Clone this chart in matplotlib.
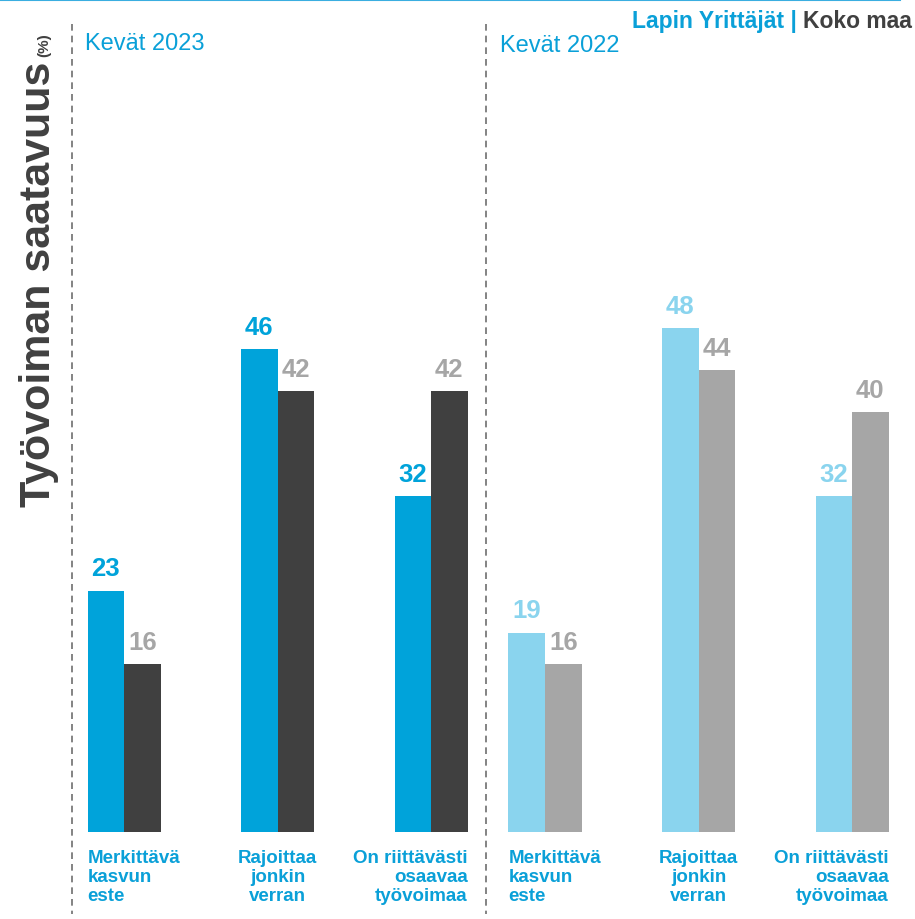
import matplotlib
matplotlib.use("Agg")
import matplotlib.pyplot as plt
from matplotlib.lines import Line2D

categories = ["Merkittävä\nkasvun\neste", "Rajoittaa\njonkin\nverran", "On riittävästi\nosaavaa\ntyövoimaa"]
lapin_2023 = [23, 46, 32]
koko_2023 = [16, 42, 42]
lapin_2022 = [19, 48, 32]
koko_2022 = [16, 44, 40]
period_labels = ["Kevät 2023", "Kevät 2022"]
legend_a = "Lapin Yrittäjät | "
legend_b = "Koko maa"
title = "Työvoiman saatavuus"
unit = "(%)"

C_BLUE = "#00A3DA"
C_DARK = "#404040"
C_LBLUE = "#8AD4EE"
C_GRAY = "#A6A6A6"
C_CAT = "#0AA0D8"

W, H = 915, 920
fig = plt.figure(figsize=(W / 100, H / 100), dpi=100)

NARROW = ["Liberation Sans Narrow", "Liberation Sans", "DejaVu Sans"]
ARIAL = ["Liberation Sans", "DejaVu Sans"]

bw = 0.238
ymax = 75
base_px = 833
px_per_unit = 10.5

def make_axes(left_px, right_px, xl):
    ax = fig.add_axes([left_px / W, 1 - base_px / H, (right_px - left_px) / W, ymax * px_per_unit / H])
    ax.set_xlim(*xl)
    ax.set_ylim(0, ymax)
    ax.axis("off")
    return ax

axL = make_axes(72, 486, (-0.339, 2.358))
axR = make_axes(486, 915, (-0.384, 2.41))

def draw(ax, lap, kok, c_lap, c_kok, c_lap_lbl, c_kok_lbl):
    x = list(range(len(categories)))
    b1 = ax.bar([i - bw / 2 for i in x], lap, width=bw, color=c_lap, linewidth=0)
    b2 = ax.bar([i + bw / 2 for i in x], kok, width=bw, color=c_kok, linewidth=0)
    for bars, vals, col in ((b1, lap, c_lap_lbl), (b2, kok, c_kok_lbl)):
        for r, v in zip(bars, vals):
            ax.annotate(f"{v}", xy=(r.get_x() + r.get_width() / 2, v), xytext=(0, 7.5),
                        textcoords="offset points", ha="center", va="bottom",
                        fontsize=18.5, fontweight="bold", color=col, family=ARIAL,
                        annotation_clip=False)
    aligns = ["left", "center", "right"]
    xs = [0 - bw, 1, 2 + bw]
    for xi, ha, lab in zip(xs, aligns, categories):
        ax.annotate(lab, xy=(xi, 0), xytext=(0, -12), textcoords="offset points",
                    ha=ha, va="top", multialignment=ha, fontsize=13.5, fontweight="bold",
                    color=C_CAT, family=NARROW, linespacing=1.18, annotation_clip=False)

draw(axL, lapin_2023, koko_2023, C_BLUE, C_DARK, C_BLUE, C_GRAY)
draw(axR, lapin_2022, koko_2022, C_LBLUE, C_GRAY, C_LBLUE, C_GRAY)

# dashed separators
for xp in (72, 486):
    fig.add_artist(Line2D([xp / W, xp / W], [1 - 25 / H, 1 - 915 / H], transform=fig.transFigure,
                          color="#6E6E6E", lw=1.2, linestyle=(0, (4, 3))))

# top line
fig.add_artist(Line2D([0, 900 / W], [1 - 0.8 / H, 1 - 0.8 / H], transform=fig.transFigure,
                      color="#3AAEE0", lw=1.5))

# period headers
fig.text(85 / W, 1 - 33 / H, period_labels[0], ha="left", va="top", fontsize=17,
         color=C_CAT, family=NARROW)
fig.text(500 / W, 1 - 35 / H, period_labels[1], ha="left", va="top", fontsize=17,
         color=C_CAT, family=NARROW)

# legend text
tb = fig.text(912 / W, 1 - 28 / H, legend_b, ha="right", va="baseline", fontsize=16.5,
              fontweight="bold", color=C_DARK, family=NARROW)
axL.annotate(legend_a, xy=(0, 0), xycoords=tb, ha="right", va="bottom",
             fontsize=16.5, fontweight="bold", color=C_CAT, family=NARROW,
             annotation_clip=False)

# y title
fig.text(39 / W, 1 - 507 / H, title, rotation=90, ha="center", va="bottom",
         fontsize=31, fontweight="bold", color=C_DARK, family=ARIAL)
fig.text(44 / W, 1 - 57 / H, unit, rotation=90, ha="center", va="bottom",
         fontsize=11, fontweight="bold", color=C_DARK, family=ARIAL)

fig.savefig("out.png", dpi=100)
